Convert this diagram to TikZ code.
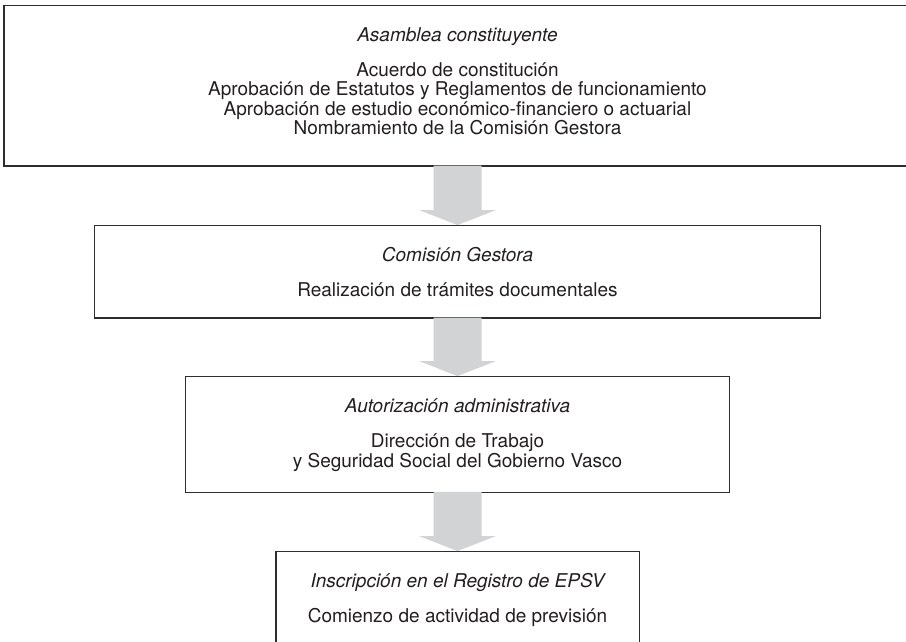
\documentclass[tikz,border=0pt]{standalone}
\usepackage{fontspec}
\setmainfont{TeX Gyre Heros}
\usetikzlibrary{calc}
\definecolor{ink}{RGB}{35,31,32}
\definecolor{frame}{RGB}{45,45,45}
\definecolor{flow}{RGB}{209,211,212}
\tikzset{
  stage/.style={draw=frame, line width=1.3pt, fill=white, rectangle, inner sep=0pt},
  txt/.style={anchor=base, inner sep=0pt, text=ink, font=\fontsize{19}{20}\selectfont},
  ttl/.style={txt, font=\fontsize{19}{20}\selectfont\itshape},
}
% fat downward arrow from the bottom of one stage to the top of the next
\newcommand{\flowarrow}[2]{%
  \fill[flow] ($(#1.south)+(-24,-1)$) -- ($(#2.north)+(-24,-15)$)
    -- ($(#2.north)+(-38.5,-15)$) -- (#2.north)
    -- ($(#2.north)+(38.5,-15)$) -- ($(#2.north)+(24,-15)$)
    -- ($(#1.south)+(24,-1)$) -- cycle;}
\begin{document}
\begin{tikzpicture}[x=1pt,y=-1pt]
\useasboundingbox (0,0) rectangle (906,642);
\clip (0,0) rectangle (906,642);

% stages
\node[stage, minimum width=907pt, minimum height=160.3pt] (b1) at (457.5,85.85) {};
\node[stage, minimum width=726pt, minimum height=92.3pt] (b2) at (457.5,271.85) {};
\node[stage, minimum width=544pt, minimum height=115.6pt] (b3) at (457.5,434.5) {};
\node[stage, minimum width=363.3pt, minimum height=92.3pt] (b4) at (457.5,597.85) {};

% arrows between stages
\flowarrow{b1}{b2}
\flowarrow{b2}{b3}
\flowarrow{b3}{b4}

% texts of the first stage
\node[ttl] (t1) at (457.5,41.7) {Asamblea constituyente};
\node[txt] (t1a) at (457.5,76.2) {Acuerdo de constitución};
\node[txt] (t1b) at (457.5,95.7) {Aprobación de Estatutos y Reglamentos de funcionamiento};
\node[txt] (t1c) at (457.5,115.2) {Aprobación de estudio económico-financiero o actuarial};
\node[txt] (t1d) at (457.5,134.7) {Nombramiento de la Comisión Gestora};

% second stage
\node[ttl] (t2) at (457.5,261.7) {Comisión Gestora};
\node[txt] (t2a) at (457.5,296.2) {Realización de trámites documentales};

% third stage
\node[ttl] (t3) at (457.5,412.7) {Autorización administrativa};
\node[txt] (t3a) at (457.5,447.2) {Dirección de Trabajo};
\node[txt] (t3b) at (457.5,467.7) {y Seguridad Social del Gobierno Vasco};

% fourth stage
\node[ttl] (t4) at (457.5,587.7) {Inscripción en el Registro de EPSV};
\node[txt] (t4a) at (457.5,622.2) {Comienzo de actividad de previsión};
\end{tikzpicture}
\end{document}
